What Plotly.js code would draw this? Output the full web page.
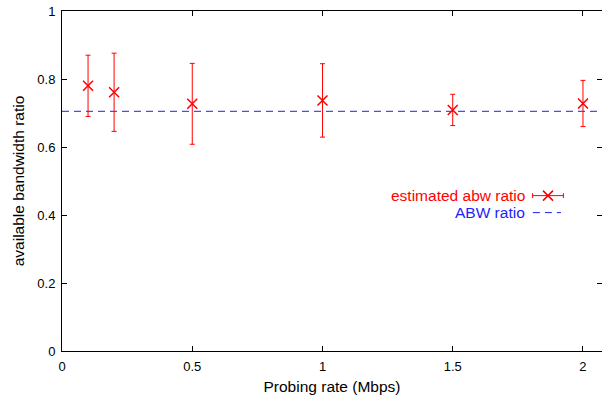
<!DOCTYPE html>
<html>
<head>
<meta charset="utf-8">
<script src="https://cdn.plot.ly/plotly-3.0.1.min.js"></script>
<style>html,body{margin:0;padding:0;background:#fff;}#chart{width:602px;height:399px;}</style>
</head>
<body>
<div id="chart"></div>
<script>
// Data
const probingRate = [0.1, 0.2, 0.5, 1.0, 1.5, 2.0];
const estAbwRatio = [0.780, 0.761, 0.727, 0.737, 0.709, 0.728];
const estAbwErr = [0.090, 0.115, 0.119, 0.108, 0.046, 0.068];
const abwRatio = 0.705;
const xRange = [0, 2.073];
const yTicks = [0, 0.2, 0.4, 0.6, 0.8, 1];
const yTickText = ['0', '0.2', '0.4', '0.6', '0.8', '1'];
const xTicks = [0, 0.5, 1, 1.5, 2];
const xTickText = ['0', '0.5', '1', '1.5', '2'];
const legendLabels = ['estimated abw ratio', 'ABW ratio'];

const red = 'rgb(255,0,0)';
const blue = 'rgb(30,30,250)';
const font = 'Liberation Sans, Arial, sans-serif';

const traces = [
  {
    x: xRange, y: [abwRatio, abwRatio], mode: 'lines', type: 'scatter',
    line: {color: blue, width: 1, dash: '7px,5px'}, hoverinfo: 'skip', showlegend: false
  },
  {
    x: probingRate, y: estAbwRatio, mode: 'markers', type: 'scatter',
    marker: {symbol: 'x-thin', size: 10, color: red, line: {color: red, width: 1.5}},
    error_y: {type: 'data', array: estAbwErr, visible: true, color: red, thickness: 1, width: 2.5},
    showlegend: false
  },
  // legend sample for estimated abw ratio (in paper-like overlay axes)
  {
    x: [0.9], y: [0.457], xaxis: 'x2', yaxis: 'y2', mode: 'markers', type: 'scatter',
    marker: {symbol: 'x-thin', size: 10, color: red, line: {color: red, width: 1.5}},
    error_x: {type: 'constant', value: 0.0285, visible: true, color: red, thickness: 1, width: 2.5},
    showlegend: false, hoverinfo: 'skip'
  },
  {
    x: [0.872, 0.924], y: [0.407, 0.407], xaxis: 'x2', yaxis: 'y2', mode: 'lines', type: 'scatter',
    line: {color: blue, width: 1, dash: '7px,5px'}, showlegend: false, hoverinfo: 'skip'
  }
];

const layout = {
  width: 602, height: 399,
  margin: {l: 62, r: 0, t: 11, b: 48, pad: 0},
  paper_bgcolor: '#fff', plot_bgcolor: '#fff',
  font: {family: font, size: 13, color: '#000'},
  showlegend: false,
  xaxis: {
    range: xRange, tickvals: xTicks, ticktext: xTickText,
    ticks: 'inside', ticklen: 5, tickwidth: 1, tickcolor: '#000',
    showline: true, linecolor: '#000', linewidth: 1, mirror: 'ticks',
    showgrid: false, zeroline: false, ticklabelstandoff: 3,
    tickfont: {family: font, size: 13, color: '#000'},
    title: {text: 'Probing rate (Mbps)', font: {family: font, size: 15.5, color: '#000'}, standoff: 8}
  },
  yaxis: {
    range: [0, 1], tickvals: yTicks, ticktext: yTickText,
    ticks: 'inside', ticklen: 5, tickwidth: 1, tickcolor: '#000',
    showline: true, linecolor: '#000', linewidth: 1, mirror: 'ticks',
    showgrid: false, zeroline: false, ticklabelstandoff: 3,
    tickfont: {family: font, size: 13, color: '#000'},
    title: {text: 'available bandwidth ratio', font: {family: font, size: 15.5, color: '#000'}, standoff: 8}
  },
  xaxis2: {range: [0, 1], overlaying: 'x', visible: false, fixedrange: true},
  yaxis2: {range: [0, 1], overlaying: 'y', visible: false, fixedrange: true},
  annotations: [
    {xref: 'paper', yref: 'paper', x: 0.861, y: 0.457, xanchor: 'right', yanchor: 'middle',
     text: legendLabels[0], showarrow: false, font: {family: font, size: 15.5, color: red}},
    {xref: 'paper', yref: 'paper', x: 0.861, y: 0.407, xanchor: 'right', yanchor: 'middle',
     text: legendLabels[1], showarrow: false, font: {family: font, size: 15.5, color: blue}}
  ]
};

Plotly.newPlot('chart', traces, layout, {staticPlot: true, displayModeBar: false});
</script>
</body>
</html>
